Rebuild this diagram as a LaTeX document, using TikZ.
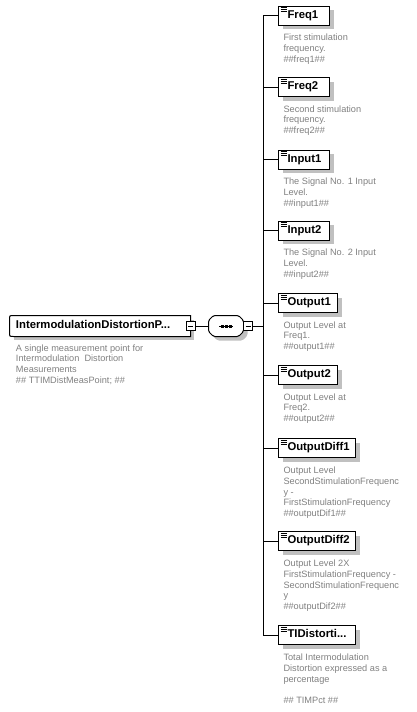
\documentclass[tikz,border=0pt]{standalone}
\usepackage{fontspec}
\setmainfont{Liberation Sans}
\usepackage{tikz}
\usetikzlibrary{shadows}
\usepackage{color}
\definecolor{shadowgray}{RGB}{192,192,192}
\definecolor{descgray}{RGB}{128,128,128}
\newcommand{\elemfont}{\fontsize{11.3}{13}\selectfont\bfseries}
\newcommand{\descfont}{\fontsize{9.2}{10.7}\selectfont}

\begin{document}
\begin{tikzpicture}[x=1pt,y=-1pt,line width=1pt,
    shadowed/.style={drop shadow={shadow xshift=4pt,shadow yshift=-4pt,fill=shadowgray,opacity=1}},
    elem/.style={draw, fill=white, shadowed, anchor=west, minimum height=19pt,
      inner xsep=0pt, inner ysep=0pt, text width=#1, align=left, font=\elemfont,
      text height=8pt, text depth=2.5pt, execute at begin node={\hspace*{9pt}},
      path picture={\foreach \k in {1.5,3.5,5.5}
        \draw[line width=.8pt] ([xshift=2pt,yshift=-\k pt]path picture bounding box.north west) -- ++(6pt,0pt);}},
    rootbox/.style={fill=white, shadowed, minimum height=20pt, inner xsep=6pt, inner ysep=0pt,
      text width=168pt, align=left, font=\elemfont, text height=8pt, text depth=2.5pt},
    desc/.style={anchor=north west, inner sep=0pt, align=left, font=\descfont, text=descgray},
    minusbox/.style={draw, fill=white, minimum size=9pt, inner sep=0pt,
      path picture={\draw ([xshift=2pt]path picture bounding box.west) -- ([xshift=-2pt]path picture bounding box.east);}}]
  \useasboundingbox (0,0) rectangle (416,712);
  % root element
  \node (root) at (100,326) [rootbox] {IntermodulationDistortionP...};
  \draw ([xshift=4pt]root.north west) -- (root.north east) -- (root.south east)
    -- ([xshift=4pt]root.south west) .. controls (root.south west) .. ([yshift=4pt]root.south west)
    -- ([yshift=-4pt]root.north west) .. controls (root.north west) .. ([xshift=4pt]root.north west) -- cycle;
  \node (rootminus) at (root.east) [minusbox] {};
  \node (rootd) at ([xshift=6pt,yshift=-7.5pt]root.south west) [desc]
    {A single measurement point for\\Intermodulation\ \ Distortion\\Measurements\\\#\# TTIMDistMeasPoint; \#\#};
  % sequence
  \node (seq) at (226,326) [minimum width=34pt, minimum height=20pt, inner sep=0pt] {};
  \draw[fill=white, shadowed, rounded corners=1.5pt]
    ([xshift=5pt]seq.north west) -- ([xshift=-5pt]seq.north east) -- ([yshift=-5pt]seq.north east)
    -- ([yshift=5pt]seq.south east) -- ([xshift=-5pt]seq.south east) -- ([xshift=5pt]seq.south west)
    -- ([yshift=5pt]seq.south west) -- ([yshift=-5pt]seq.north west) -- cycle;
  \draw ([xshift=-7pt]seq.center) to ([xshift=7pt]seq.center);
  \foreach \d in {-4,0,4}
    \fill ([xshift=\d pt]seq.center) +(-1.5pt,-1.5pt) rectangle +(1.5pt,1.5pt);
  \node (seqminus) at (248,326) [minusbox] {};
  \coordinate (bus) at (263,326);
  % children
  \node (freq1) at (278,15.5) [elem=51pt] {Freq1};
  \node (freq2) at (278,87) [elem=51pt] {Freq2};
  \node (input1) at (278,159.5) [elem=51pt] {Input1};
  \node (input2) at (278,230.5) [elem=51pt] {Input2};
  \node (output1) at (278,303) [elem=59pt] {Output1};
  \node (output2) at (278,375) [elem=59pt] {Output2};
  \node (diff1) at (278,448) [elem=77pt] {OutputDiff1};
  \node (diff2) at (278,541) [elem=77pt] {OutputDiff2};
  \node (tid) at (278,635) [elem=77pt] {TIDistorti...};
  % annotations
  \node (freq1d) at ([xshift=5pt,yshift=-8pt]freq1.south west) [desc]
    {First stimulation\\frequency.\\\#\#freq1\#\#};
  \node (freq2d) at ([xshift=5pt,yshift=-8pt]freq2.south west) [desc]
    {Second stimulation\\frequency.\\\#\#freq2\#\#};
  \node (input1d) at ([xshift=5pt,yshift=-8pt]input1.south west) [desc]
    {The Signal No. 1 Input\\Level.\\\#\#input1\#\#};
  \node (input2d) at ([xshift=5pt,yshift=-8pt]input2.south west) [desc]
    {The Signal No. 2 Input\\Level.\\\#\#input2\#\#};
  \node (output1d) at ([xshift=5pt,yshift=-8pt]output1.south west) [desc]
    {Output Level at\\Freq1.\\\#\#output1\#\#};
  \node (output2d) at ([xshift=5pt,yshift=-8pt]output2.south west) [desc]
    {Output Level at\\Freq2.\\\#\#output2\#\#};
  \node (diff1d) at ([xshift=5pt,yshift=-8.5pt]diff1.south west) [desc]
    {Output Level\\SecondStimulationFrequenc\\y -\\FirstStimulationFrequency\\\#\#outputDif1\#\#};
  \node (diff2d) at ([xshift=5pt,yshift=-8.5pt]diff2.south west) [desc]
    {Output Level 2X\\FirstStimulationFrequency -\\SecondStimulationFrequenc\\y\\\#\#outputDif2\#\#};
  \node (tidd) at ([xshift=5pt,yshift=-8.5pt]tid.south west) [desc]
    {Total Intermodulation\\Distortion expressed as a\\percentage\\[10.7pt]\#\# TIMPct \#\#};
  % connectors
  \draw (rootminus.east) to (seq.west)
    (seqminus.east) to (bus);
  \draw (bus |- freq1.west) to (bus |- tid.west);
  \draw (bus |- freq1.west) to (freq1.west)
    (bus |- freq2.west) to (freq2.west)
    (bus |- input1.west) to (input1.west)
    (bus |- input2.west) to (input2.west)
    (bus |- output1.west) to (output1.west)
    (bus |- output2.west) to (output2.west)
    (bus |- diff1.west) to (diff1.west)
    (bus |- diff2.west) to (diff2.west)
    (bus |- tid.west) to (tid.west);
\end{tikzpicture}
\end{document}
